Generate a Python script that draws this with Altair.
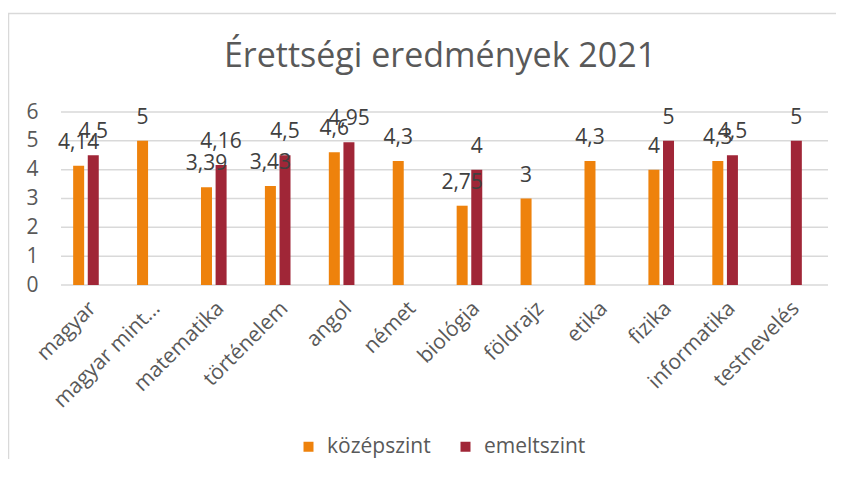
import altair as alt
import pandas as pd

title_text = "Érettségi eredmények 2021"
subjects = ["magyar", "magyar mint…", "matematika", "történelem", "angol", "német",
            "biológia", "földrajz", "etika", "fizika", "informatika", "testnevelés"]
levels = ["középszint", "emeltszint"]
kozep = [4.14, 5, 3.39, 3.43, 4.6, 4.3, 2.75, 3, 4.3, 4, 4.3, None]
emelt = [4.5, None, 4.16, 4.5, 4.95, None, 4, None, None, 5, 4.5, 5]
y_ticks = [0, 1, 2, 3, 4, 5, 6]
colors = ["#EE820C", "#A02637"]

rows = []
for s, a, b in zip(subjects, kozep, emelt):
    for lvl, v in ((levels[0], a), (levels[1], b)):
        if v is not None:
            rows.append({"subject": s, "level": lvl, "value": v,
                         "label": f"{v:g}".replace(".", ",")})
df = pd.DataFrame(rows)
grid_df = pd.DataFrame({"value": y_ticks})
one = pd.DataFrame({"t": [title_text]})

W, H = 767, 173
FONT = "Open Sans"

yscale = alt.Scale(domain=[0, 6], nice=False)
xscale = alt.Scale(domain=subjects, paddingInner=0.6, paddingOuter=0.3)
yaxis = alt.Axis(values=y_ticks, grid=False, ticks=False, domain=False,
                 labelFontSize=21, labelFont=FONT, labelColor="#595959",
                 labelPadding=16)

grid = alt.Chart(grid_df).mark_rule(color="#d9d9d9", strokeWidth=1.5).encode(
    y=alt.Y("value:Q", scale=yscale, axis=yaxis, title=None),
    x=alt.value(7), x2=alt.value(W + 7),
)

# chart frame: only its left and top edges fall inside the picture
frame = alt.Chart(one).mark_rect(fillOpacity=0, stroke="#d9d9d9", strokeWidth=1.5).encode(
    x=alt.value(-45.5), x2=alt.value(W + 200),
    y=alt.value(-98.5), y2=alt.value(H + 400))

title = alt.Chart(one).mark_text(font=FONT, fontSize=34, color="#595959",
                                 baseline="alphabetic", align="center").encode(
    text="t:N", x=alt.value(386), y=alt.value(-45))

base = alt.Chart(df).encode(
    x=alt.X("subject:N", sort=subjects, scale=xscale, title=None,
            axis=alt.Axis(labelAngle=-45, labelAlign="right", labelBaseline="middle",
                          labelFontSize=21, labelFont=FONT, labelColor="#595959",
                          ticks=False, domain=False, labelPadding=20, labelOffset=7,
                          labelLimit=300)),
    xOffset=alt.XOffset("level:N", sort=levels,
                        scale=alt.Scale(domain=levels, paddingInner=0.25, paddingOuter=0)),
    y=alt.Y("value:Q", scale=yscale, title=None, axis=yaxis),
)

bars = base.mark_bar(size=11).encode(
    color=alt.Color("level:N", sort=levels,
                    scale=alt.Scale(domain=levels, range=colors),
                    legend=alt.Legend(title=None, orient="none", direction="horizontal",
                                      legendX=244, legendY=324, symbolType="square",
                                      symbolSize=100, symbolStrokeWidth=0,
                                      labelFontSize=21, labelFont=FONT,
                                      labelColor="#595959", labelOffset=8,
                                      columnPadding=24)),
)

labels = base.mark_text(baseline="alphabetic", dy=-17, fontSize=21, font=FONT,
                        color="#404040").encode(text="label:N")

chart = alt.layer(frame, grid, bars, labels, title).properties(
    width=W, height=H,
    autosize=alt.AutoSizeParams(type="none"),
    padding={"left": 46, "top": 104, "right": 15, "bottom": 174},
).configure_view(stroke=None)

chart.save("out.html", embed_options={"renderer": "svg", "actions": False})
